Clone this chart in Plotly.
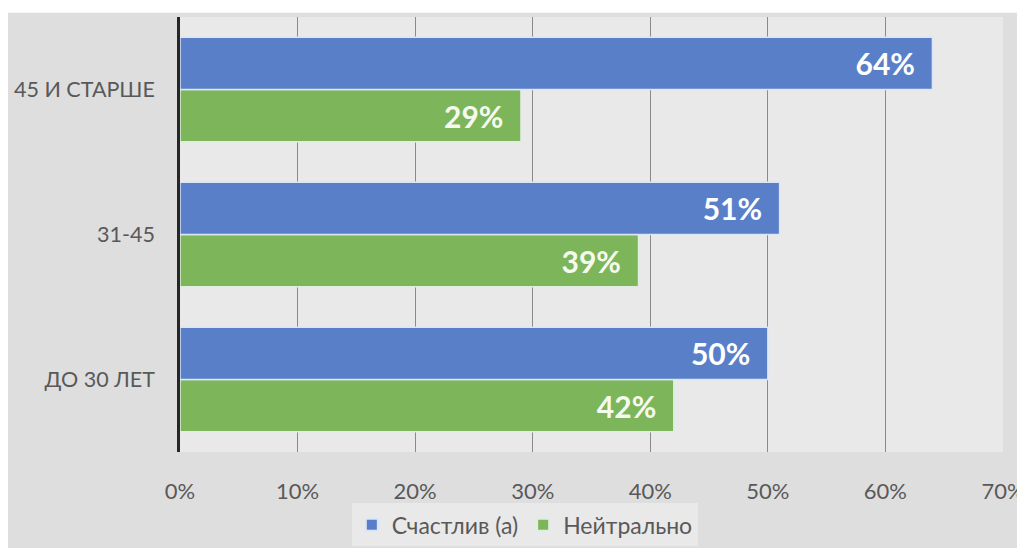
import plotly.graph_objects as go

categories = ["ДО 30 ЛЕТ", "31-45", "45 И СТАРШЕ"]
happy = [50, 51, 64]
neutral = [42, 39, 29]
series_names = ["Счастлив (а)", "Нейтрально"]
tick_vals = [0, 10, 20, 30, 40, 50, 60, 70]
tick_text = ["0%", "10%", "20%", "30%", "40%", "50%", "60%", "70%"]

blue = "#5A7FC9"
green = "#7DB55A"
font = "Lato"

fig = go.Figure()
fig.add_trace(go.Bar(
    y=categories, x=neutral, name=series_names[1], orientation="h",
    marker=dict(color=green, line=dict(color="#dfeee0", width=1.5)),
    text=[f"{v}%\u00a0\u00a0" for v in neutral], textposition="inside", insidetextanchor="end",
    textfont=dict(family=font, size=30, color="#f6faee", weight="bold"),
    showlegend=True,
))
fig.add_trace(go.Bar(
    y=categories, x=happy, name=series_names[0], orientation="h",
    marker=dict(color=blue, line=dict(color="#dce6f6", width=1.5)),
    text=[f"{v}%\u00a0\u00a0" for v in happy], textposition="inside", insidetextanchor="end",
    textfont=dict(family=font, size=30, color="white", weight="bold"),
))

fig.update_layout(
    width=1025, height=548,
    margin=dict(l=172, r=30, t=9, b=104, autoexpand=False),
    barmode="group", bargap=0.28, bargroupgap=0,
    paper_bgcolor="white", plot_bgcolor="rgba(0,0,0,0)",
    font=dict(family=font, size=16, color="#595959"),
    legend=dict(orientation="h", x=0.419, xanchor="center", y=-0.118, yanchor="top",
                bgcolor="#e9e9e9", font=dict(size=23, color="#595959"),
                traceorder="reversed", itemsizing="constant"),
    xaxis=dict(range=[0, 70], tickvals=tick_vals, ticktext=tick_text,
               showgrid=True, gridcolor="#8a8a8a", gridwidth=1,
               zeroline=False, showline=False, ticks="", ticklabelstandoff=24,
               tickfont=dict(size=22, color="#595959"), automargin=False),
    yaxis=dict(showline=True, linecolor="#262626", linewidth=2.5, ticks="",
               ticklabelstandoff=18, tickfont=dict(size=21.5, color="#595959"),
               range=[-0.5, 2.5], automargin=False),
    shapes=[
        dict(type="rect", xref="paper", yref="paper", x0=-0.21, x1=1.04, y0=-0.3, y1=1.01,
             fillcolor="#dedede", line=dict(width=0), layer="below"),
        dict(type="rect", xref="paper", yref="paper", x0=0, x1=1, y0=0, y1=1,
             fillcolor="#e9e9e9", line=dict(width=0), layer="below"),
    ],
)

fig.write_html("out.html")
